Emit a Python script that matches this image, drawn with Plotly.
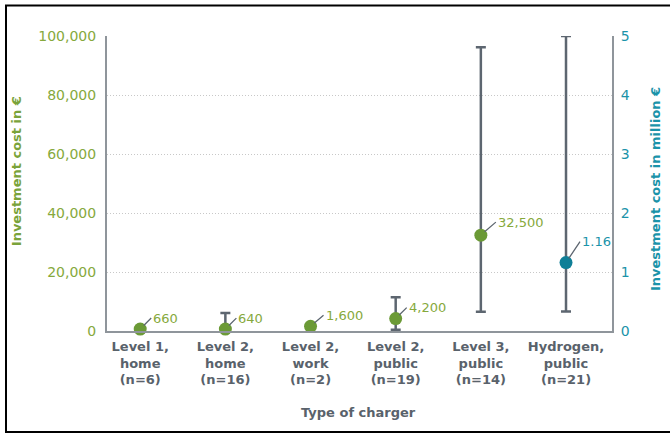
import plotly.graph_objects as go

# Charger categories and sample sizes
categories = ["Level 1,<br>home<br>(n=6)", "Level 2,<br>home<br>(n=16)", "Level 2,<br>work<br>(n=2)",
              "Level 2,<br>public<br>(n=19)", "Level 3,<br>public<br>(n=14)", "Hydrogen,<br>public<br>(n=21)"]

# Charging points: investment cost in EUR (left axis)
ev_categories = categories[:5]
ev_cost = [660, 640, 1600, 4200, 32500]
ev_high = [None, 6100, None, 11400, 96200]
ev_low = [None, 100, None, 400, 6500]
ev_labels = ["660", "640", "1,600", "4,200", "32,500"]

# Hydrogen station: investment cost in million EUR (right axis)
h2_categories = categories[5:]
h2_cost = [1.16]
h2_high = [5.0]
h2_low = [0.33]
h2_labels = ["1.16"]

GREEN = "#6b9a36"
GREEN_TXT = "#86a93c"
TEAL = "#0f7f97"
TEAL_TXT = "#1b93a9"
GREY = "#5d6670"
AXIS = "#8f959b"
DARK = "#59626b"
FONT = "DejaVu Sans"


def err_up(v, hi):
    return [None if h is None else h - c for c, h in zip(v, hi)]


def err_down(v, lo):
    return [None if l is None else c - l for c, l in zip(v, lo)]


fig = go.Figure()
fig.add_trace(go.Scatter(
    x=ev_categories, y=ev_cost, mode="markers",
    marker=dict(color=GREEN, size=13),
    error_y=dict(type="data", symmetric=False, array=err_up(ev_cost, ev_high),
                 arrayminus=err_down(ev_cost, ev_low), color=GREY, thickness=2.5, width=5),
    showlegend=False, yaxis="y", cliponaxis=False,
))
fig.add_trace(go.Scatter(
    x=h2_categories, y=h2_cost, mode="markers",
    marker=dict(color=TEAL, size=13),
    error_y=dict(type="data", symmetric=False, array=err_up(h2_cost, h2_high),
                 arrayminus=err_down(h2_cost, h2_low), color=GREY, thickness=2.5, width=5),
    showlegend=False, yaxis="y2", cliponaxis=False,
))

annotations = []
label_offsets = [(11, -11), (11, -11), (13, -11), (11, -11), (15, -13)]
for cat, val, txt, (dx, dy) in zip(ev_categories, ev_cost, ev_labels, label_offsets):
    annotations.append(dict(x=cat, y=val, xref="x", yref="y", text=txt, showarrow=True,
                            ax=dx, ay=dy, xanchor="left", yanchor="middle", arrowhead=0,
                            arrowwidth=1.3, arrowcolor=GREY, standoff=5,
                            font=dict(family=FONT, size=13, color=GREEN_TXT)))
for cat, val, txt in zip(h2_categories, h2_cost, h2_labels):
    annotations.append(dict(x=cat, y=val, xref="x", yref="y2", text=txt, showarrow=True,
                            ax=14, ay=-21, xanchor="left", yanchor="middle", arrowhead=0,
                            arrowwidth=1.3, arrowcolor=GREY, standoff=5,
                            font=dict(family=FONT, size=13, color=TEAL_TXT)))

# Axis titles
annotations += [
    dict(text="<b>Investment cost in €</b>", xref="paper", yref="paper", x=-0.180, y=0.542,
         xanchor="center", yanchor="middle",
         textangle=-90, showarrow=False, font=dict(family=FONT, size=13, color="#7aa33a")),
    dict(text="<b>Investment cost in million €</b>", xref="paper", yref="paper", x=1.085, y=0.481,
         xanchor="center", yanchor="middle",
         textangle=-90, showarrow=False, font=dict(family=FONT, size=13, color=TEAL_TXT)),
    dict(text="<b>Type of charger</b>", xref="paper", yref="paper", x=0.499, y=-0.275,
         xanchor="center", yanchor="middle",
         showarrow=False, font=dict(family=FONT, size=13, color=DARK)),
]

fig.update_layout(
    width=670, height=434,
    margin=dict(l=107, r=58, t=36, b=103),
    paper_bgcolor="white", plot_bgcolor="white",
    font=dict(family=FONT),
    xaxis=dict(
        type="category", categoryorder="array", categoryarray=categories,
        tickmode="array", tickvals=categories, ticktext=["<b>%s</b>" % c for c in categories],
        range=[-0.39, 5.54], showgrid=False, zeroline=False,
        showline=True, linecolor=AXIS, linewidth=2, ticks="",
        ticklabelstandoff=2,
        tickfont=dict(family=FONT, size=13, color=DARK),
    ),
    yaxis=dict(
        range=[0, 100000], tickvals=[0, 20000, 40000, 60000, 80000, 100000],
        tickformat=",", showgrid=True, gridcolor="#c8c8c8", griddash="1px,2px", gridwidth=1,
        zeroline=False, showline=True, linecolor=AXIS, linewidth=2, ticks="",
        ticklabelstandoff=6,
        tickfont=dict(family=FONT, size=14, color=GREEN_TXT),
    ),
    yaxis2=dict(
        range=[0, 5], tickvals=[0, 1, 2, 3, 4, 5], overlaying="y", side="right",
        showgrid=False, zeroline=False, showline=True, linecolor=AXIS, linewidth=2,
        ticks="", ticklabelstandoff=4,
        tickfont=dict(family=FONT, size=14, color=TEAL_TXT),
    ),
    annotations=annotations,
    shapes=[dict(type="rect", xref="paper", yref="paper",
                 x0=(6 - 107) / 505, x1=(673 - 107) / 505,
                 y0=(331 - 432) / 295, y1=(331 - 5.5) / 295,
                 line=dict(color="black", width=2), layer="below")],
)

fig.write_html("out.html")
